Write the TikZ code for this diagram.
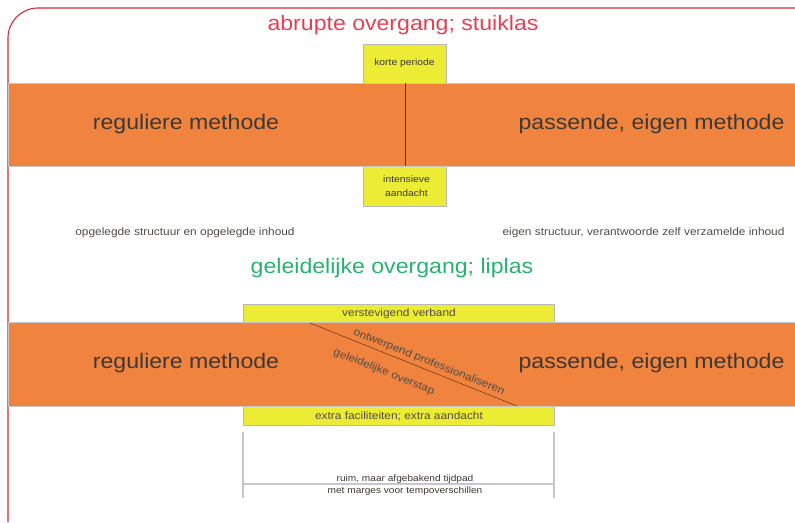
\documentclass[tikz,border=0pt]{standalone}
\usepackage{fontspec}
\setmainfont{Liberation Sans}[FakeStretch=1.1]
\definecolor{myorange}{RGB}{240,132,62}
\definecolor{myyellow}{RGB}{236,236,52}
\definecolor{framered}{RGB}{226,36,48}
\definecolor{titlered}{RGB}{232,64,82}
\definecolor{titlegreen}{RGB}{40,178,112}
\definecolor{txt}{RGB}{62,56,52}
\definecolor{brack}{RGB}{196,198,208}
\begin{document}
\begin{tikzpicture}[x=1pt,y=-1pt,
  band/.style={fill=myorange, draw=black!22, line width=0.6pt, minimum width=787pt, minimum height=83pt, inner sep=0pt},
  ybox/.style={fill=myyellow, draw=black!28, line width=0.5pt, inner sep=0pt},
  bigtxt/.style={font=\fontsize{21}{24}\selectfont, text=txt, inner sep=0pt},
  smalltxt/.style={font=\fontsize{10.8}{13}\selectfont, text=txt!90, inner sep=0pt},
  tinytxt/.style={font=\fontsize{9.4}{12}\selectfont, text=txt, inner sep=0pt, align=center},
  divline/.style={draw=black!60!myorange, line width=0.6pt},
  bracket/.style={draw=brack, line width=1.3pt}
]
\useasboundingbox (0,0) rectangle (795,522);
% frame
\coordinate (fb) at (8,522);
\coordinate (fc) at (8,8);
\coordinate (fr) at (800,8);
\draw[framered, line width=1.1pt, rounded corners=30pt] (fb) -- (fc) -- (fr);

% ---------- abrupt ----------
\node[font=\fontsize{21}{24}\selectfont, text=titlered, inner sep=0pt] (t1) at (403,25) {abrupte overgang; stuiklas};
\node[ybox, minimum width=83pt, minimum height=39pt] (kp) at (404.5,63.5) {};
\node[tinytxt] at (kp.center) {korte periode};
\node[ybox, minimum width=83pt, minimum height=40pt] (ia) at (404.5,186) {};
\node[tinytxt, font=\fontsize{9.4}{13.5}\selectfont] at (406.5,186) {intensieve\\aandacht};
\node[band] (b1) at (401.5,124.5) {};
\coordinate (v1t) at (405,83);
\coordinate (v1b) at (405,166);
\draw[divline] (v1t) -- (v1b);
\node[bigtxt] (r1) at (186,124) {reguliere methode};
\node[bigtxt] (p1) at (651.5,124) {passende, eigen methode};
\node[smalltxt] (o1) at (185,233) {opgelegde structuur en opgelegde inhoud};
\node[smalltxt] (e1) at (643.5,233) {eigen structuur, verantwoorde zelf verzamelde inhoud};

% ---------- geleidelijk ----------
\node[font=\fontsize{21}{24}\selectfont, text=titlegreen, inner sep=0pt] (t2) at (392,268) {geleidelijke overgang; liplas};
\node[ybox, minimum width=311pt, minimum height=18pt] (vv) at (398.5,313) {};
\node[smalltxt] at (399,314) {verstevigend verband};
\node[ybox, minimum width=311pt, minimum height=19pt] (ef) at (398.5,415.5) {};
\node[smalltxt] at (399,416) {extra faciliteiten; extra aandacht};
\node[band, minimum height=84pt] (b2) at (401.5,364) {};
\coordinate (d1) at (310,323);
\coordinate (d2) at (517,406);
\draw[divline, line width=0.5pt] (d1) -- (d2);
\node[smalltxt, rotate=-21.8] (op) at (429,362) {ontwerpend professionaliseren};
\node[smalltxt, rotate=-21.8] (go) at (384,372) {geleidelijke overstap};
\node[bigtxt] (r2) at (186,363) {reguliere methode};
\node[bigtxt] (p2) at (651.5,363) {passende, eigen methode};

% bracket
\coordinate (bl1) at (243,432);
\coordinate (bl2) at (243,498);
\coordinate (br1) at (554,432);
\coordinate (br2) at (554,498);
\coordinate (hl) at (243,484);
\coordinate (hr) at (554,484);
\draw[bracket] (bl1) -- (bl2);
\draw[bracket] (br1) -- (br2);
\draw[bracket] (hl) -- (hr);
\node[tinytxt, font=\fontsize{9.2}{12}\selectfont] (tp) at (405,485) {ruim, maar afgebakend tijdpad\\met marges voor tempoverschillen};
\end{tikzpicture}
\end{document}
